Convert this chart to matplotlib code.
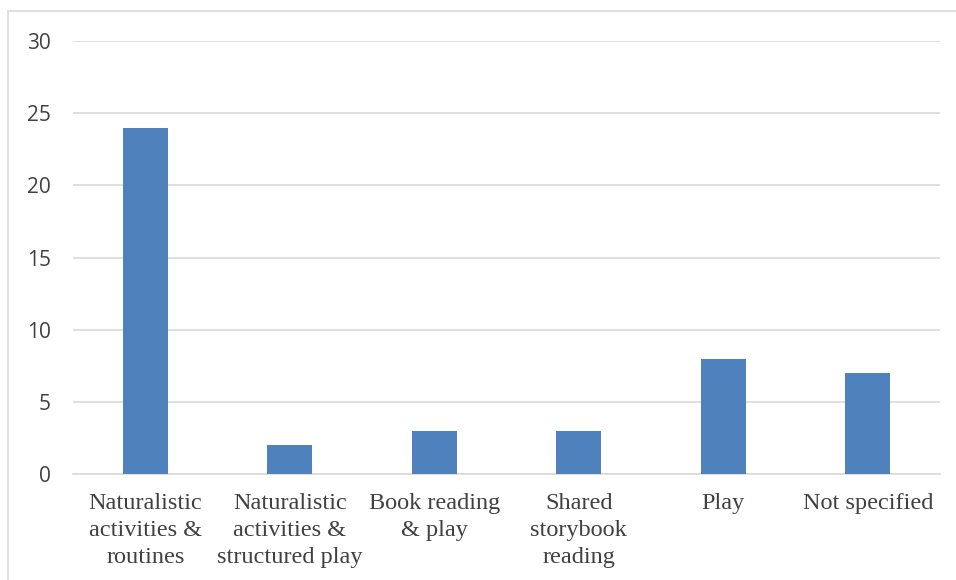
import matplotlib.pyplot as plt
from matplotlib.patches import Rectangle

# Settings found in the reviewed studies
categories = ["Naturalistic\nactivities &\nroutines",
              "Naturalistic\nactivities &\nstructured play",
              "Book reading\n& play",
              "Shared\nstorybook\nreading",
              "Play",
              "Not specified"]
counts = [24, 2, 3, 3, 8, 7]
y_ticks = [0, 5, 10, 15, 20, 25, 30]

fig = plt.figure(figsize=(9.56, 5.8), dpi=100)
ax = fig.add_axes([73 / 956, 1 - 474 / 580, (940 - 73) / 956, (474 - 41) / 580])

# light frame around the chart area
fig.patches.append(Rectangle((8 / 956, -0.1), 1.2, 1 - 11 / 580 + 0.1,
                             transform=fig.transFigure, fill=False,
                             edgecolor="#d9d9d9", linewidth=1.2))

x = range(len(categories))
ax.bar(x, counts, width=0.31, color="#4f81bd", zorder=3)

ax.set_xlim(-0.5, len(categories) - 0.5)
ax.set_ylim(0, 30)
ax.set_yticks(y_ticks)
ax.grid(axis="y", color="#d9d9d9", linewidth=1.2, zorder=0)
for s in ["top", "right", "left"]:
    ax.spines[s].set_visible(False)
ax.spines["bottom"].set_color("#d9d9d9")
ax.spines["bottom"].set_linewidth(1.2)

ax.tick_params(axis="both", length=0)
ax.tick_params(axis="y", pad=16, labelsize=15, labelcolor="#404040")
ax.set_yticklabels([str(t) for t in y_ticks], family="Open Sans")
ax.set_xticks(list(x))
ax.set_xticklabels(categories, family="Liberation Serif", fontsize=17.5,
                   color="#404040", linespacing=1.37)
ax.tick_params(axis="x", pad=14)

fig.savefig("out.png", dpi=100)
